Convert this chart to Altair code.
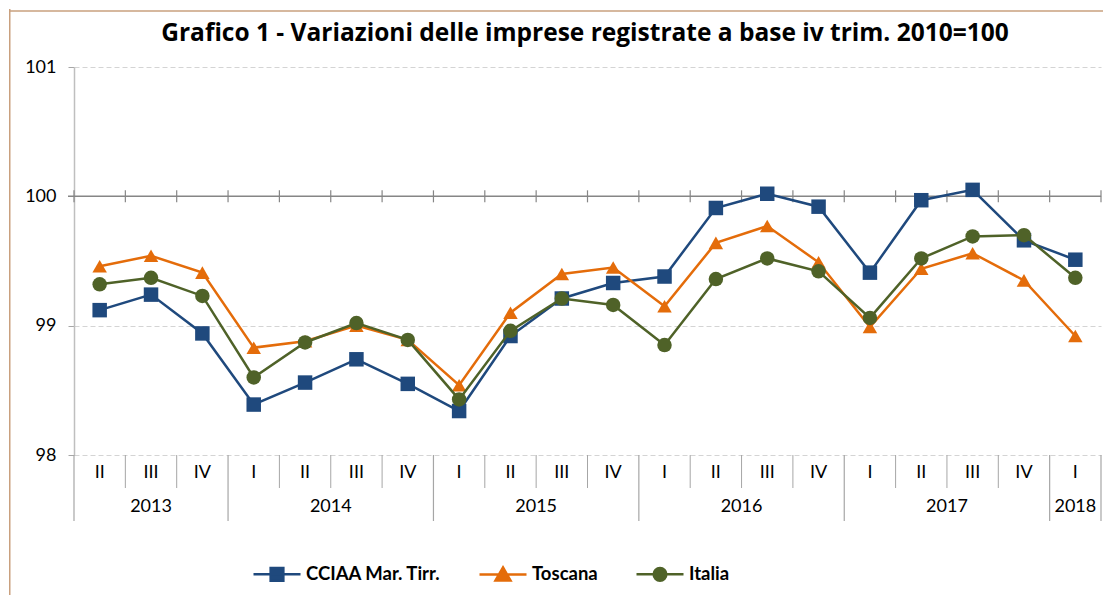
import altair as alt
import pandas as pd

# ---------------- data ----------------
QUARTERS = ["II", "III", "IV", "I", "II", "III", "IV", "I", "II", "III", "IV",
            "I", "II", "III", "IV", "I", "II", "III", "IV", "I"]
YEARS = ["2013", "2014", "2015", "2016", "2017", "2018"]
YEAR_QUARTERS = [3, 4, 4, 4, 4, 1]

CCIAA = [99.12, 99.24, 98.94, 98.39, 98.56, 98.74, 98.55, 98.34, 98.92, 99.21,
         99.33, 99.38, 99.91, 100.02, 99.92, 99.41, 99.97, 100.05, 99.66, 99.51]
TOSCANA = [99.46, 99.54, 99.41, 98.83, 98.88, 99.00, 98.89, 98.54, 99.10, 99.40,
           99.45, 99.15, 99.64, 99.77, 99.49, 98.99, 99.44, 99.56, 99.35, 98.92]
ITALIA = [99.32, 99.37, 99.23, 98.60, 98.87, 99.02, 98.89, 98.43, 98.96, 99.21,
          99.16, 98.85, 99.36, 99.52, 99.42, 99.06, 99.52, 99.69, 99.70, 99.37]

SERIES = ["CCIAA Mar. Tirr.", "Toscana", "Italia"]
COLORS = ["#1F497D", "#E46C0A", "#4F6228"]
SHAPES = ["square", "triangle-up", "circle"]
TITLE = "Grafico 1 - Variazioni delle imprese registrate a base iv trim. 2010=100"
Y_TICKS = [98, 99, 100, 101]

# legend symbols: a line segment with the series marker on it
LEGEND_PATHS = [
    "M-1,0H1M-0.27,-0.27H0.27V0.27H-0.27Z",
    "M-1,0H1M0,-0.3L0.32,0.26H-0.32Z",
    "M-1,0H1M-0.27,0A0.27,0.27 0 1,0 0.27,0A0.27,0.27 0 1,0 -0.27,0Z",
]

# ---------------- tables ----------------
rows = []
for name, vals in zip(SERIES, [CCIAA, TOSCANA, ITALIA]):
    for i, v in enumerate(vals):
        rows.append({"idx": i, "value": v, "serie": name})
df = pd.DataFrame(rows)

df_q = pd.DataFrame({"idx": list(range(len(QUARTERS))), "label": QUARTERS})

centers, starts = [], []
s = 0
for n in YEAR_QUARTERS:
    starts.append(s)
    centers.append(s + (n - 1) / 2)
    s += n
df_y = pd.DataFrame({"center": centers, "label": YEARS})

year_bounds = set([st - 0.5 for st in starts] + [len(QUARTERS) - 0.5])
bounds = [k - 0.5 for k in range(len(QUARTERS) + 1)]
df_b = pd.DataFrame({"pos": bounds,
                     "kind": ["year" if b in year_bounds else "quarter" for b in bounds]})

# ---------------- layout ----------------
W, H = 1027, 388
Y100 = H / 3.0
FONT = "Lato"
TFONT = "Open Sans"
AXIS_GRAY = "#868686"
SEP_GRAY = "#A6A6A6"

xs = alt.Scale(domain=[-0.5, len(QUARTERS) - 0.5], nice=False, zero=False)
ys = alt.Scale(domain=[98, 101], nice=False, zero=False)

y_axis = alt.Axis(values=Y_TICKS, grid=True, gridDash=[5, 3], gridColor="#D4D4D4",
                  gridWidth=1, domainColor="#BFBFBF", domainWidth=1.5,
                  tickColor="#A6A6A6", tickSize=6, labelPadding=12,
                  labelFont=FONT, labelFontSize=18, labelColor="#000000",
                  title=None, format="d")

line100 = alt.Chart(pd.DataFrame({"v": [100]})).mark_rule(
    color=AXIS_GRAY, strokeWidth=1.5).encode(
    y=alt.Y("v:Q", scale=ys, axis=y_axis), x=alt.value(-6), x2=alt.value(W))

ticks100 = alt.Chart(df_b).mark_rule(color=AXIS_GRAY, strokeWidth=1.2).encode(
    x=alt.X("pos:Q", scale=xs, axis=None),
    y=alt.value(Y100 - 6), y2=alt.value(Y100 + 6))

sep_q = alt.Chart(df_b).transform_filter("datum.kind == 'quarter'").mark_rule(
    color=SEP_GRAY, strokeWidth=1).encode(
    x=alt.X("pos:Q", scale=xs, axis=None),
    y=alt.value(H), y2=alt.value(H + 33))

sep_y = alt.Chart(df_b).transform_filter("datum.kind == 'year'").mark_rule(
    color=SEP_GRAY, strokeWidth=1.2).encode(
    x=alt.X("pos:Q", scale=xs, axis=None),
    y=alt.value(H), y2=alt.value(H + 66))

q_text = alt.Chart(df_q).mark_text(font=FONT, fontSize=18, color="#000000",
                                   baseline="middle").encode(
    x=alt.X("idx:Q", scale=xs, axis=None), y=alt.value(H + 18), text="label:N")

y_text = alt.Chart(df_y).mark_text(font=FONT, fontSize=18, color="#000000",
                                   baseline="middle").encode(
    x=alt.X("center:Q", scale=xs, axis=None), y=alt.value(H + 52), text="label:N")

title = alt.Chart(pd.DataFrame({"t": [TITLE]})).mark_text(
    font=TFONT, fontSize=24.5, fontWeight="bold", color="#000000",
    baseline="middle").encode(x=alt.value(511), y=alt.value(-33), text="t:N")

frame_left = alt.Chart(pd.DataFrame({"a": [0]})).mark_rule(
    color="#C9A07E", strokeWidth=1.5).encode(
    x=alt.value(-64.25), y=alt.value(-58), y2=alt.value(528))
frame_top = alt.Chart(pd.DataFrame({"a": [0]})).mark_rule(
    color="#C9A07E", strokeWidth=1.5).encode(
    x=alt.value(-65), x2=alt.value(1029), y=alt.value(-56))

series_layers = []
for name, col, shp in zip(SERIES, COLORS, SHAPES):
    base = alt.Chart(df).transform_filter(alt.datum.serie == name)
    ln = base.mark_line(color=col, strokeWidth=2.5).encode(
        x=alt.X("idx:Q", scale=xs, axis=None),
        y=alt.Y("value:Q", scale=ys))
    pt = base.mark_point(shape=shp, filled=True, color=col, size=210, opacity=1).encode(
        x=alt.X("idx:Q", scale=xs, axis=None),
        y=alt.Y("value:Q", scale=ys))
    series_layers += [ln, pt]

leg = alt.Legend(orient="none", legendX=178, legendY=482, direction="horizontal",
                 title=None, labelFont=FONT, labelFontSize=18.5, labelFontWeight="bold",
                 labelColor="#000000", symbolSize=2209, symbolStrokeWidth=2.5,
                 columnPadding=33, labelOffset=4)
legend_layer = alt.Chart(df).transform_filter("false").mark_point(
    filled=True, strokeWidth=2.5, opacity=1, size=2209).encode(
    fill=alt.Fill("serie:N", scale=alt.Scale(domain=SERIES, range=COLORS), legend=leg),
    stroke=alt.Stroke("serie:N", scale=alt.Scale(domain=SERIES, range=COLORS), legend=leg),
    shape=alt.Shape("serie:N", scale=alt.Scale(domain=SERIES, range=LEGEND_PATHS), legend=leg),
)

chart = alt.layer(
    frame_left, frame_top, line100, ticks100, sep_q, sep_y, q_text, y_text, title,
    *series_layers, legend_layer
).properties(width=W, height=H, padding=0).configure_view(strokeWidth=0)

chart.save("out.html", embed_options={"renderer": "svg", "actions": False})
